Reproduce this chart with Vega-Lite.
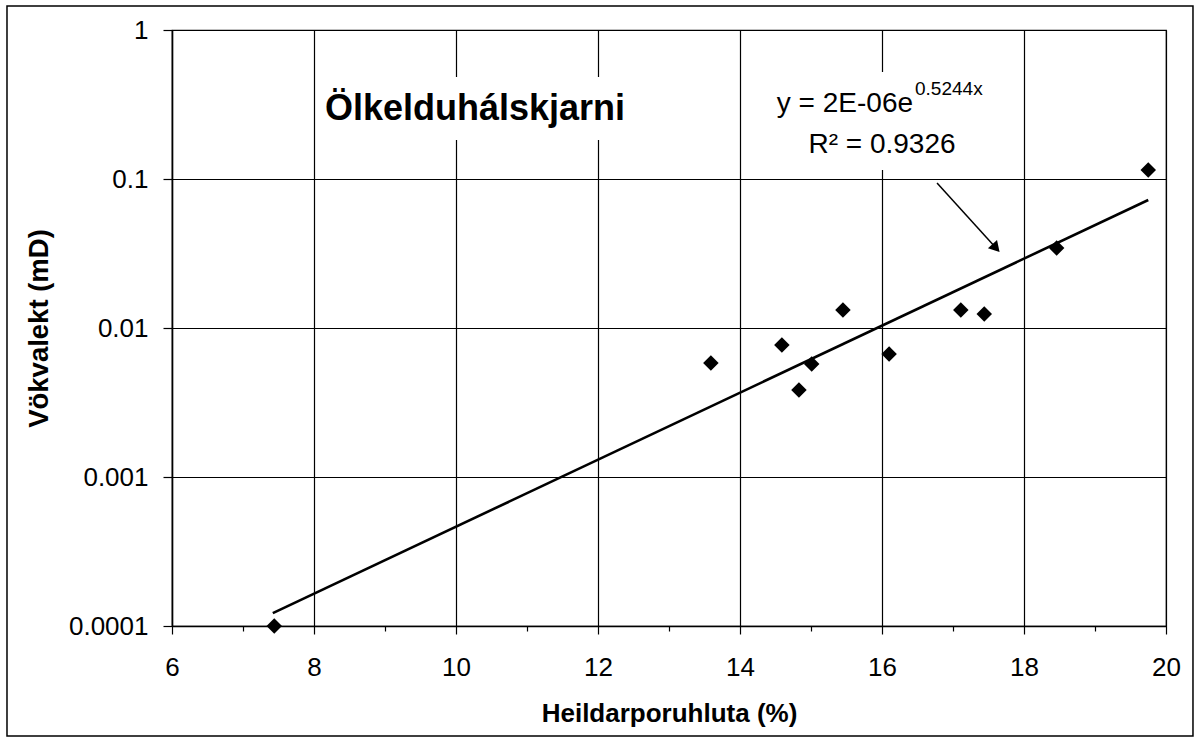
{
  "$schema": "https://vega.github.io/schema/vega-lite/v6.json",
  "autosize": {"type": "none"},
  "width": 994,
  "height": 596,
  "padding": {"left": 172, "top": 30, "right": 33, "bottom": 114},
  "background": "white",
  "config": {
    "font": "Liberation Sans",
    "view": {"stroke": "black", "strokeWidth": 1.2},
    "axis": {"domainColor": "black", "tickColor": "black", "labelColor": "black", "titleColor": "black", "gridColor": "black", "gridWidth": 1.2, "domainWidth": 1.5, "tickWidth": 1.2, "labelFont": "Liberation Sans", "titleFont": "Liberation Sans"}
  },
  "encoding": {
    "x": {
      "field": "x", "type": "quantitative",
      "scale": {"domain": [6, 20], "nice": false, "zero": false},
      "axis": {
        "title": "Heildarporuhluta (%)",
        "values": [6, 6.5, 7, 7.5, 8, 8.5, 9, 9.5, 10, 10.5, 11, 11.5, 12, 12.5, 13, 13.5, 14, 14.5, 15, 15.5, 16, 16.5, 17, 17.5, 18, 18.5, 19, 19.5, 20],
        "labelExpr": "datum.value % 2 === 0 ? datum.label : ''",
        "format": "d",
        "tickSize": {"condition": {"test": "datum.value % 2 === 0", "value": 8}, "value": 5},
        "grid": true,
        "gridOpacity": {"condition": {"test": "datum.value % 2 === 0", "value": 1}, "value": 0},
        "labelFontSize": 26,
        "labelPadding": 20,
        "labelFlush": false,
        "labelOverlap": false,
        "titleFontSize": 26,
        "titleFontWeight": "bold",
        "titlePadding": 20
      }
    },
    "y": {
      "field": "y", "type": "quantitative",
      "scale": {"type": "log", "domain": [0.0001, 1], "nice": false},
      "axis": {
        "title": "Vökvalekt (mD)",
        "values": [0.0001, 0.001, 0.01, 0.1, 1],
        "format": ".4~f",
        "grid": true,
        "tickSize": 9,
        "labelFontSize": 26,
        "labelPadding": 15,
        "labelFlush": false,
        "labelOverlap": false,
        "titleFontSize": 27.5,
        "titleFontWeight": "bold",
        "titlePadding": 15
      }
    }
  },
  "layer": [
    {
      "data": {"values": [{"x": 3.676, "x2": 20.38, "y": 1.449, "y2": 0.0000183}]},
      "mark": {"type": "rect", "fillOpacity": 0, "stroke": "black", "strokeWidth": 1.5, "clip": false},
      "encoding": {"x2": {"field": "x2"}, "y2": {"field": "y2"}}
    },
    {
      "data": {"values": [
        {"x": 8.056, "x2": 12.5, "y": 0.484, "y2": 0.183},
        {"x": 14.35, "x2": 17.62, "y": 0.523, "y2": 0.115}
      ]},
      "mark": {"type": "rect", "fill": "white", "stroke": null},
      "encoding": {"x2": {"field": "x2"}, "y2": {"field": "y2"}}
    },
    {
      "data": {"values": [{"x": 7.42, "y": 0.000122}, {"x": 19.75, "y": 0.0723}]},
      "mark": {"type": "line", "color": "black", "strokeWidth": 2.6}
    },
    {
      "data": {"values": [
        {"x": 7.44, "y": 0.0001},
        {"x": 13.59, "y": 0.00582},
        {"x": 14.59, "y": 0.00769},
        {"x": 14.83, "y": 0.00384},
        {"x": 15.01, "y": 0.00573},
        {"x": 15.45, "y": 0.0132},
        {"x": 16.10, "y": 0.00669},
        {"x": 17.11, "y": 0.0132},
        {"x": 17.44, "y": 0.0124},
        {"x": 18.46, "y": 0.0344},
        {"x": 19.75, "y": 0.115}
      ]},
      "mark": {"type": "point", "shape": "diamond", "filled": true, "color": "black", "opacity": 1, "size": 240, "clip": false}
    },
    {
      "data": {"values": [{"x": 16.775, "y": 0.094, "x2": 17.606, "y2": 0.0344}]},
      "mark": {"type": "rule", "color": "black", "strokeWidth": 1.5},
      "encoding": {"x2": {"field": "x2"}, "y2": {"field": "y2"}}
    },
    {
      "data": {"values": [{"x": 17.606, "y": 0.0344}]},
      "mark": {"type": "point", "shape": "triangle-up", "angle": 138, "filled": true, "color": "black", "opacity": 1, "size": 150}
    },
    {
      "data": {"values": [{"x": 8.155, "y": 0.249, "label": "Ölkelduhálskjarni"}]},
      "mark": {"type": "text", "align": "left", "baseline": "alphabetic", "fontSize": 36, "fontWeight": "bold", "color": "black", "font": "Liberation Sans"},
      "encoding": {"text": {"field": "label"}}
    },
    {
      "data": {"values": [{"x": 16.437, "y": 0.282, "label": "y = 2E-06e"}]},
      "mark": {"type": "text", "align": "right", "baseline": "alphabetic", "fontSize": 28, "color": "black", "font": "Liberation Sans"},
      "encoding": {"text": {"field": "label"}}
    },
    {
      "data": {"values": [{"x": 16.465, "y": 0.366, "label": "0.5244x"}]},
      "mark": {"type": "text", "align": "left", "baseline": "alphabetic", "fontSize": 19, "color": "black", "font": "Liberation Sans"},
      "encoding": {"text": {"field": "label"}}
    },
    {
      "data": {"values": [{"x": 16.0, "y": 0.1494, "label": "R² = 0.9326"}]},
      "mark": {"type": "text", "align": "center", "baseline": "alphabetic", "fontSize": 28, "color": "black", "font": "Liberation Sans"},
      "encoding": {"text": {"field": "label"}}
    }
  ]
}
